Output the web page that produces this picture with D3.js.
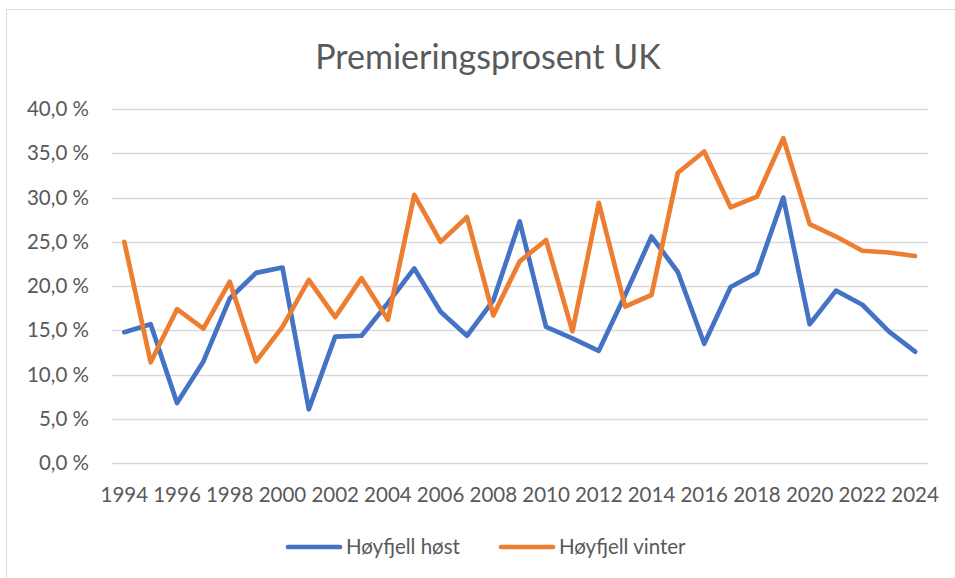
<!DOCTYPE html>
<html>
<head>
<meta charset="utf-8">
<script src="https://cdn.jsdelivr.net/npm/d3@7"></script>
<style>
  body { margin: 0; background: #fff; }
  svg { display: block; font-family: Lato, "Open Sans", sans-serif; }
</style>
</head>
<body>
<svg id="chart" width="955" height="578"></svg>
<script>
'use strict';

const title = 'Premieringsprosent UK';

const years = d3.range(1994, 2025);

const seriesNames = ['Høyfjell høst', 'Høyfjell vinter'];

// percent values
const host = [
  14.8, 15.7, 6.8, 11.5, 18.6, 21.5, 22.1, 6.1, 14.3, 14.4,
  18.1, 22.0, 17.1, 14.4, 18.4, 27.3, 15.4, 14.1, 12.7, 19.0,
  25.6, 21.6, 13.5, 19.9, 21.5, 30.0, 15.7, 19.5, 17.9, 14.9,
  12.6,
];

const vinter = [
  25.0, 11.4, 17.4, 15.2, 20.5, 11.5, 15.4, 20.7, 16.5, 20.9,
  16.2, 30.3, 25.0, 27.8, 16.7, 22.8, 25.2, 14.9, 29.4, 17.7,
  19.0, 32.8, 35.2, 28.9, 30.1, 36.7, 27.0, 25.6, 24.0, 23.8,
  23.4,
];

const yTicks = [0, 5, 10, 15, 20, 25, 30, 35, 40];
const xTicks = d3.range(1994, 2025, 2);

const colors = ['#4472C4', '#ED7D31'];

const svg = d3.select('#chart');

// chart frame
svg.append('rect')
  .attr('x', 6.5)
  .attr('y', 9.5)
  .attr('width', 960)
  .attr('height', 600)
  .attr('fill', '#fff')
  .attr('stroke', '#d9d9d9')
  .attr('stroke-width', 1);

svg.append('text')
  .attr('x', 488)
  .attr('y', 69)
  .attr('text-anchor', 'middle')
  .attr('font-size', 34)
  .attr('fill', '#595959')
  .text(title);

const x = d3.scaleLinear().domain([1994, 2024]).range([124.3, 915.1]);
const y = d3.scaleLinear().domain([0, 40]).range([463.3, 109]);

// gridlines
svg.append('g')
  .selectAll('line')
  .data(yTicks)
  .enter()
  .append('line')
  .attr('x1', 112)
  .attr('x2', 928)
  .attr('y1', d => Math.round(y(d)) + 0.5)
  .attr('y2', d => Math.round(y(d)) + 0.5)
  .attr('stroke', '#d9d9d9')
  .attr('stroke-width', 1.3);

// y labels
svg.append('g')
  .selectAll('text')
  .data(yTicks)
  .enter()
  .append('text')
  .attr('x', 89)
  .attr('y', d => y(d) + 7)
  .attr('text-anchor', 'end')
  .attr('font-size', 20.5)
  .attr('fill', '#595959')
  .text(d => d3.format('.1f')(d).replace('.', ',') + ' %');

// x labels
svg.append('g')
  .selectAll('text')
  .data(xTicks)
  .enter()
  .append('text')
  .attr('x', d => x(d))
  .attr('y', 502)
  .attr('text-anchor', 'middle')
  .attr('font-size', 20.5)
  .attr('fill', '#595959')
  .text(d => d);

const line = d3.line()
  .x((d, i) => x(years[i]))
  .y(d => y(d));

[host, vinter].forEach((values, k) => {
  svg.append('path')
    .datum(values)
    .attr('d', line)
    .attr('fill', 'none')
    .attr('stroke', colors[k])
    .attr('stroke-width', 4.7)
    .attr('stroke-linejoin', 'round')
    .attr('stroke-linecap', 'round');
});

// legend
const legendX = [288, 501];
const legend = svg.append('g')
  .selectAll('g')
  .data(seriesNames)
  .enter()
  .append('g')
  .attr('transform', (d, i) => `translate(${legendX[i]}, 547)`);

legend.append('line')
  .attr('x1', 0)
  .attr('x2', 52)
  .attr('stroke', (d, i) => colors[i])
  .attr('stroke-width', 4.7)
  .attr('stroke-linecap', 'round');

legend.append('text')
  .attr('x', 58)
  .attr('y', 7)
  .attr('font-size', 20.5)
  .attr('fill', '#595959')
  .text(d => d);
</script>
</body>
</html>
